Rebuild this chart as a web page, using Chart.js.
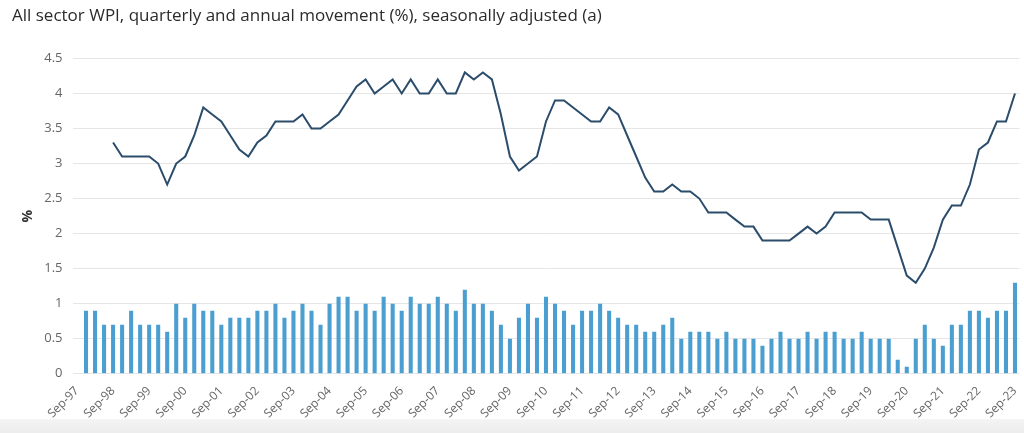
<!DOCTYPE html>
<html>
<head>
<meta charset="utf-8">
<script src="https://cdn.jsdelivr.net/npm/chart.js@4"></script>
<style>
    html, body { margin: 0; padding: 0; background: #fff; }
    body { width: 1024px; height: 433px; overflow: hidden; position: relative; font-family: "Open Sans", sans-serif; }
    #foot { position: absolute; left: 0; top: 419px; width: 1024px; height: 14px;
            background: linear-gradient(#f4f4f4, #ececec); }
    #wrap { position: absolute; left: 0; top: 0; width: 1024px; height: 423px; }
</style>
</head>
<body>
<div id="foot"></div>
<div id="wrap"><canvas id="wpiChart"></canvas></div>
<script>
// categories: quarters Sep-97 .. Sep-23
const years = ["97", "98", "99", "00", "01", "02", "03", "04", "05", "06", "07", "08", "09",
               "10", "11", "12", "13", "14", "15", "16", "17", "18", "19", "20", "21", "22", "23"];
const months = ["Sep", "Dec", "Mar", "Jun"];

// quarterly movement (%) - bars
const quarterly = [
    null, 0.9, 0.9, 0.7,
    0.7, 0.7, 0.9, 0.7,
    0.7, 0.7, 0.6, 1.0,
    0.8, 1.0, 0.9, 0.9,
    0.7, 0.8, 0.8, 0.8,
    0.9, 0.9, 1.0, 0.8,
    0.9, 1.0, 0.9, 0.7,
    1.0, 1.1, 1.1, 0.9,
    1.0, 0.9, 1.1, 1.0,
    0.9, 1.1, 1.0, 1.0,
    1.1, 1.0, 0.9, 1.2,
    1.0, 1.0, 0.9, 0.7,
    0.5, 0.8, 1.0, 0.8,
    1.1, 1.0, 0.9, 0.7,
    0.9, 0.9, 1.0, 0.9,
    0.8, 0.7, 0.7, 0.6,
    0.6, 0.7, 0.8, 0.5,
    0.6, 0.6, 0.6, 0.5,
    0.6, 0.5, 0.5, 0.5,
    0.4, 0.5, 0.6, 0.5,
    0.5, 0.6, 0.5, 0.6,
    0.6, 0.5, 0.5, 0.6,
    0.5, 0.5, 0.5, 0.2,
    0.1, 0.5, 0.7, 0.5,
    0.4, 0.7, 0.7, 0.9,
    0.9, 0.8, 0.9, 0.9,
    1.3
];

// annual movement (%) - line, starts Sep-98
const annual = [
    null, null, null, null,
    3.3, 3.1, 3.1, 3.1,
    3.1, 3.0, 2.7, 3.0,
    3.1, 3.4, 3.8, 3.7,
    3.6, 3.4, 3.2, 3.1,
    3.3, 3.4, 3.6, 3.6,
    3.6, 3.7, 3.5, 3.5,
    3.6, 3.7, 3.9, 4.1,
    4.2, 4.0, 4.1, 4.2,
    4.0, 4.2, 4.0, 4.0,
    4.2, 4.0, 4.0, 4.3,
    4.2, 4.3, 4.2, 3.7,
    3.1, 2.9, 3.0, 3.1,
    3.6, 3.9, 3.9, 3.8,
    3.7, 3.6, 3.6, 3.8,
    3.7, 3.4, 3.1, 2.8,
    2.6, 2.6, 2.7, 2.6,
    2.6, 2.5, 2.3, 2.3,
    2.3, 2.2, 2.1, 2.1,
    1.9, 1.9, 1.9, 1.9,
    2.0, 2.1, 2.0, 2.1,
    2.3, 2.3, 2.3, 2.3,
    2.2, 2.2, 2.2, 1.8,
    1.4, 1.3, 1.5, 1.8,
    2.2, 2.4, 2.4, 2.7,
    3.2, 3.3, 3.6, 3.6,
    4.0
];

const yTicks = [0, 0.5, 1, 1.5, 2, 2.5, 3, 3.5, 4, 4.5];

const labels = [];
for (let i = 0; i < quarterly.length; i++) {
    const m = months[i % 4];
    // Sep, Dec belong to the same year; Mar, Jun roll to the next
    const y = (i % 4 < 2) ? years[Math.floor(i / 4)] : years[Math.floor(i / 4) + 1];
    labels.push(m + "-" + y);
}

document.addEventListener("DOMContentLoaded", function () {
    const ctx = document.getElementById("wpiChart").getContext("2d");
    new Chart(ctx, {
        type: "bar",
        data: {
            labels: labels,
            datasets: [
                {
                    type: "line",
                    label: "Annual movement",
                    data: annual,
                    borderColor: "#2b4c6b",
                    borderWidth: 2,
                    pointRadius: 0,
                    tension: 0,
                    order: 0
                },
                {
                    label: "Quarterly movement",
                    data: quarterly,
                    backgroundColor: "#4a9fd0",
                    categoryPercentage: 0.9,
                    barPercentage: 0.5,
                    order: 1
                }
            ]
        },
        options: {
            responsive: true,
            maintainAspectRatio: false,
            animation: false,
            layout: { padding: { left: 12, right: 4.5, top: 0, bottom: 0 } },
            plugins: {
                legend: { display: false },
                tooltip: { enabled: false },
                title: {
                    display: true,
                    text: "All sector WPI, quarterly and annual movement (%), seasonally adjusted (a)",
                    align: "start",
                    color: "#2b2b2b",
                    font: { family: "Open Sans", size: 17, weight: "normal" },
                    padding: { top: 6, bottom: 32 }
                }
            },
            scales: {
                x: {
                    grid: { display: false },
                    border: { display: false },
                    afterFit: function (axis) {
                        axis.paddingRight = 0;
                    },
                    ticks: {
                        autoSkip: false,
                        minRotation: 45,
                        maxRotation: 45,
                        color: "#666",
                        font: { family: "Open Sans", size: 12 },
                        padding: 2,
                        callback: function (val, i) {
                            return i % 4 === 0 ? labels[i] : "";
                        }
                    }
                },
                y: {
                    min: 0,
                    max: 4.5,
                    afterBuildTicks: function (axis) {
                        axis.ticks = yTicks.map(v => ({ value: v }));
                    },
                    afterFit: function (axis) {
                        axis.width = 60.5;
                    },
                    grid: { color: "#e6e6e6", drawTicks: false },
                    border: { display: false },
                    ticks: {
                        color: "#666",
                        font: { family: "Open Sans", size: 13 },
                        padding: 10,
                        callback: function (v) { return String(v); }
                    },
                    title: {
                        display: true,
                        text: "%",
                        color: "#333",
                        font: { family: "Open Sans", size: 14, weight: "bold" },
                        padding: { top: 8, bottom: 0 }
                    }
                }
            }
        }
    });
});
</script>
</body>
</html>
